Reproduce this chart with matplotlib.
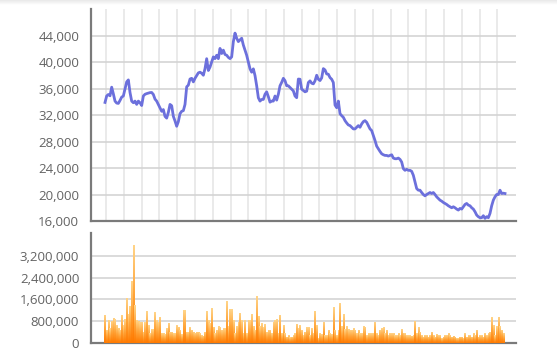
import numpy as np
import matplotlib
matplotlib.use('Agg')
import matplotlib.pyplot as plt
from matplotlib.colors import LinearSegmentedColormap

# closing price (one point per session)
price = [
    33900, 34870, 35100, 34900, 36200, 35200, 34100, 33800, 33750, 34200,
    34700, 34870, 35900, 37000, 37300, 35400, 34100, 33850, 34100, 33600,
    34100, 33850, 33430, 34870, 35130, 35230, 35300, 35380, 35400, 35100,
    34400, 34100, 33600, 33070, 32560, 32820, 31790, 31530, 32400, 33600,
    33400, 31800, 31100, 30300, 31000, 32200, 32560, 32660, 33600, 36250,
    36510, 37430, 37540, 37000, 37540, 37950, 38360,
    38460, 38300, 38000, 39000, 40500, 38720, 39230, 40000, 40770, 40510,
    41020, 40510, 42050, 41280, 41790, 41130, 41020, 40700, 40510, 40770,
    43080, 44360, 43590, 43080, 43330, 43590, 42560, 41790, 41020, 40000,
    38970, 38460, 38970, 37950, 36410, 34610, 34100, 34350, 34350, 35130,
    35490, 34770, 33940, 34100, 34100, 34870, 34250, 35130, 36410, 36920,
    37540, 37180, 36410, 36410, 36150, 35900, 35640, 34870, 34610, 37430,
    37400, 35900, 35700, 35500, 35600, 36900, 37150, 36800, 36700, 37150,
    38000, 37400, 37200, 37600, 39000, 38800, 38200, 38150, 37650, 37400,
    36900, 33500, 33100, 34100, 32200, 31900, 31650, 31150, 30800, 30500,
    30400, 30150, 29900, 29900, 30150, 30400, 30150, 30650, 31000, 31150,
    30900, 30400, 29900, 29650, 28900, 28150, 27300, 26900, 26500, 26150,
    26000, 25900, 25900, 25800, 25900, 26000, 25500, 25400, 25400, 25500,
    25300, 24900, 23900, 23650, 23800, 23650, 23650, 23500, 22900, 21900,
    20900, 20650, 20650, 20300, 20000, 19800, 20000, 20150, 20300, 20150,
    20300, 20000, 19650, 19400, 19150, 19000, 18800, 18650, 18500, 18300,
    18150, 18000, 18150, 18000, 17800, 17650, 17900, 17800, 18150, 18500,
    18650, 18400, 18300, 18000, 17800, 17400, 16900, 16650, 16500, 16500,
    16800, 16400, 16650, 16500, 17150, 18300, 19150, 19650, 20000, 20000,
    20650, 20150, 20200, 20150,
]

# traded volume, millions of shares
volume = [
    1.03, 0.48, 0.84, 0.54, 0.81, 0.93, 0.88, 0.66, 0.56, 0.48,
    1.03, 0.66, 0.88, 1.66, 1.05, 1.36, 2.28, 3.60, 1.39, 0.84,
    0.81, 0.76, 0.78, 0.42, 0.76, 1.17, 0.66, 0.35, 0.50, 0.50,
    1.13, 0.83, 0.76, 0.97, 0.35, 0.35, 0.33, 0.54, 0.75, 0.42,
    0.42, 0.35, 0.35, 0.66, 0.60, 0.48, 0.32, 1.21, 1.21, 0.42,
    0.42, 0.57, 0.48, 0.42, 0.38, 0.42, 0.42, 0.35, 0.29, 0.26,
    0.42, 1.17, 0.84, 0.72, 1.27, 0.60, 0.35, 0.48, 0.62, 0.57,
    0.48, 0.54, 0.54, 1.54, 0.62, 1.24, 1.24, 0.84, 0.35, 0.62,
    0.78, 1.11, 0.84, 0.35, 0.84, 0.35, 0.84, 0.84, 1.05, 0.62,
    0.48, 1.72, 0.99, 0.62, 0.72, 0.57, 0.69, 0.42, 0.48, 0.48,
    0.35, 0.78, 0.84, 0.87, 0.35, 1.03, 0.35, 0.66, 0.35, 0.23,
    0.29, 0.21, 0.23, 0.29, 0.35, 0.70, 0.54, 0.66, 0.48, 0.29,
    0.42, 0.57, 0.57, 0.29, 0.54, 0.35, 1.19, 0.66, 0.17, 0.35,
    0.33, 0.78, 0.29, 0.29, 0.48, 0.35, 0.33, 1.31, 0.48, 0.29,
    0.48, 1.48, 0.62, 1.06, 0.50, 0.62, 0.50, 0.48, 0.48, 0.54,
    0.48, 0.35, 0.48, 0.35, 0.35, 0.62, 0.60, 0.29, 0.35, 0.35,
    0.35, 0.35, 0.78, 0.35, 0.29, 0.48, 0.54, 0.57, 0.35, 0.48,
    0.29, 0.35, 0.35, 0.35, 0.29, 0.29, 0.35, 0.29, 0.50, 0.38,
    0.35, 0.29, 0.29, 0.29, 0.26, 0.29, 0.82, 0.35, 0.57, 0.42,
    0.29, 0.23, 0.29, 0.29, 0.23, 0.29, 0.42, 0.29, 0.23, 0.33,
    0.29, 0.29, 0.17, 0.23, 0.29, 0.29, 0.35, 0.29, 0.23, 0.26,
    0.23, 0.17, 0.17, 0.23, 0.23, 0.17, 0.35, 0.23, 0.29, 0.29,
    0.23, 0.35, 0.29, 0.48, 0.23, 0.29, 0.29, 0.23, 0.35, 0.29,
    0.35, 0.42, 0.94, 0.66, 0.29, 0.62, 0.97, 0.62, 0.48, 0.35,
]

price_ticks = [16000, 20000, 24000, 28000, 32000, 36000, 40000, 44000]
volume_ticks = [0, 800000, 1600000, 2400000, 3200000]

plt.rcParams['font.family'] = ['Open Sans', 'DejaVu Sans']

fig = plt.figure(figsize=(5.57, 3.53), dpi=100)
ax1 = fig.add_axes([0.1634, 0.3739, 0.9264 - 0.1634, 0.9745 - 0.3739])
ax2 = fig.add_axes([0.1634, 0.0283, 0.9264 - 0.1634, 0.3399 - 0.0283])

x = np.arange(len(price))
xlim = (-8.4, 246.6)
vgrid = np.linspace(0.6, 235.4, 23)

# price panel
ax1.plot(x, price, color='#6c70dc', lw=2.0, solid_joinstyle='round', zorder=3)
ax1.set_xlim(*xlim)
ax1.set_ylim(16000, 48000)
ax1.set_yticks(price_ticks)
ax1.set_yticklabels([f'{v:,}' for v in price_ticks])
ax1.set_xticks(vgrid)
ax1.set_xticklabels([])
ax1.grid(axis='y', color='#d4d4d4', lw=1.2)
ax1.grid(axis='x', color='#e6e6e6', lw=1.2)
ax1.set_axisbelow(True)

# volume panel with per-bar vertical gradient
vol = np.array(volume) * 1e6
xv = np.arange(len(vol))
bars = ax2.bar(xv, vol, width=0.85, color='#ff9a2a', lw=0, zorder=2)
cmap = LinearSegmentedColormap.from_list('vol', ['#ff7a00', '#ffa53a', '#ffd58a'])
grad = np.linspace(0, 1, 64).reshape(-1, 1)
for b in bars:
    bx, by = b.get_x(), b.get_y()
    im = ax2.imshow(grad, cmap=cmap, origin='lower', aspect='auto', zorder=3,
                    extent=[bx, bx + b.get_width(), by, by + b.get_height()],
                    interpolation='bilinear')
    im.set_clip_path(b)
ax2.set_xlim(*xlim)
ax2.set_ylim(0, 4040000)
ax2.set_yticks(volume_ticks)
ax2.set_yticklabels([f'{v:,}' for v in volume_ticks])
ax2.set_xticks([])
ax2.grid(axis='y', color='#d4d4d4', lw=1.2)
ax2.set_axisbelow(True)

for ax in (ax1, ax2):
    for s in ('top', 'right'):
        ax.spines[s].set_visible(False)
    for s in ('left', 'bottom'):
        ax.spines[s].set_color('#7a7a7a')
        ax.spines[s].set_linewidth(1.6)
    ax.tick_params(axis='both', length=0, pad=8.5, labelsize=9.5, labelcolor='#636363')

# faint shadow along the top edge
sh = fig.add_axes([0, 0.985, 1, 0.015])
sh.imshow(np.linspace(0, 1, 16).reshape(-1, 1), cmap=LinearSegmentedColormap.from_list(
    'sh', ['#ffffff', '#e4e4e4']), origin='lower', aspect='auto')
sh.axis('off')

fig.savefig('out.png', dpi=100)
